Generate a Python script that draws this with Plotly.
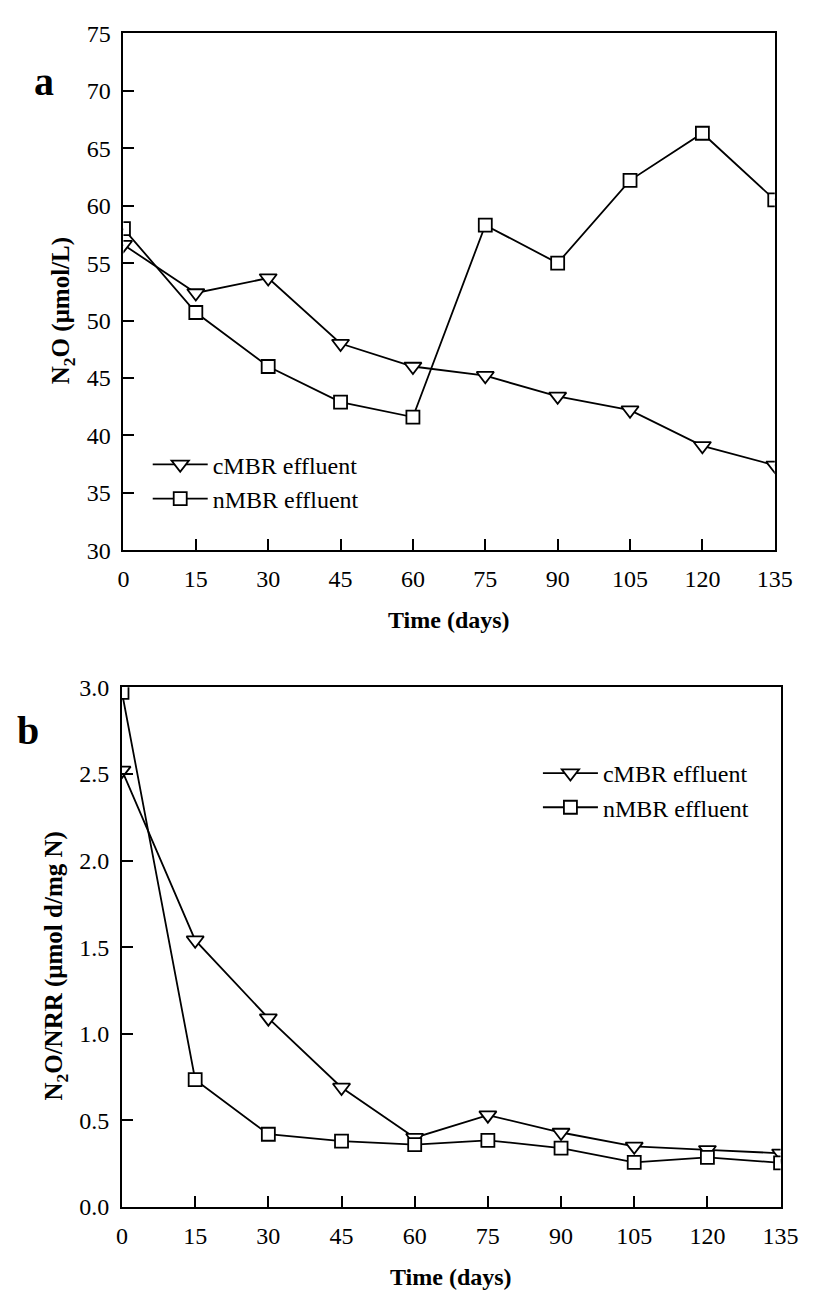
import plotly.graph_objects as go

days = [0, 15, 30, 45, 60, 75, 90, 105, 120, 135]
x_ticks = [0, 15, 30, 45, 60, 75, 90, 105, 120, 135]

# Panel a: N2O (umol/L)
a_cmbr = [56.6, 52.4, 53.7, 48.0, 46.0, 45.2, 43.4, 42.2, 39.1, 37.4]
a_nmbr = [58.0, 50.7, 46.0, 42.9, 41.6, 58.3, 55.0, 62.2, 66.3, 60.5]

# Panel b: N2O/NRR (umol d/mg N)
b_cmbr = [2.52, 1.54, 1.09, 0.69, 0.40, 0.53, 0.43, 0.35, 0.33, 0.31]
b_nmbr = [2.97, 0.735, 0.42, 0.38, 0.36, 0.385, 0.34, 0.258, 0.286, 0.255]

series_names = ["cMBR effluent", "nMBR effluent"]

W, H = 818, 1303
FONT = "Liberation Serif, Times New Roman, serif"
LW = 1.8

def px(v):
    return v / W

def py(v):
    return 1 - v / H

fig = go.Figure()

tri = dict(symbol="triangle-down", size=15, color="white", line=dict(color="black", width=LW))
sq = dict(symbol="square", size=13, color="white", line=dict(color="black", width=LW))

fig.add_trace(go.Scatter(x=days, y=a_cmbr, mode="lines+markers", name=series_names[0],
                         line=dict(color="black", width=LW), marker=tri,
                         xaxis="x", yaxis="y", legend="legend"))
fig.add_trace(go.Scatter(x=days, y=a_nmbr, mode="lines+markers", name=series_names[1],
                         line=dict(color="black", width=LW), marker=sq,
                         xaxis="x", yaxis="y", legend="legend"))
fig.add_trace(go.Scatter(x=days, y=b_cmbr, mode="lines+markers", name=series_names[0],
                         line=dict(color="black", width=LW), marker=tri,
                         xaxis="x2", yaxis="y2", legend="legend2"))
fig.add_trace(go.Scatter(x=days, y=b_nmbr, mode="lines+markers", name=series_names[1],
                         line=dict(color="black", width=LW), marker=sq,
                         xaxis="x2", yaxis="y2", legend="legend2"))

axis_common = dict(showline=True, linecolor="black", linewidth=LW, mirror=True,
                   ticks="inside", ticklen=11, tickwidth=LW, tickcolor="black",
                   showgrid=False, zeroline=False,
                   tickfont=dict(family=FONT, size=24, color="black"),
                   ticklabelstandoff=6)

fig.update_layout(
    width=W, height=H,
    margin=dict(l=0, r=0, t=0, b=0),
    paper_bgcolor="white", plot_bgcolor="white",
    font=dict(family=FONT, color="black"),
    xaxis=dict(domain=[px(121), px(792)], anchor="y", range=[0, 135],
               tickvals=x_ticks, **axis_common),
    yaxis=dict(domain=[py(548.3), py(20.7)], anchor="x", range=[30, 75],
               dtick=5, tick0=30, **axis_common),
    xaxis2=dict(domain=[px(119.5), px(798)], anchor="y2", range=[0, 135],
                tickvals=x_ticks, **axis_common),
    yaxis2=dict(domain=[py(1218.3), py(688)], anchor="x2", range=[0, 3],
                dtick=0.5, tick0=0, tickformat=".1f", **axis_common),
    legend=dict(x=px(146), y=py(438), xanchor="left", yanchor="top",
                bgcolor="rgba(0,0,0,0)", itemwidth=55,
                font=dict(family=FONT, size=24, color="black")),
    legend2=dict(x=px(548), y=py(753), xanchor="left", yanchor="top",
                 bgcolor="rgba(0,0,0,0)", itemwidth=55,
                 font=dict(family=FONT, size=24, color="black")),
)

ann = []
# panel letters
ann.append(dict(text="<b>a</b>", x=px(39), y=py(70), xref="paper", yref="paper",
                showarrow=False, xanchor="center", yanchor="middle",
                font=dict(family=FONT, size=40, color="black")))
ann.append(dict(text="<b>b</b>", x=px(23), y=py(732), xref="paper", yref="paper",
                showarrow=False, xanchor="center", yanchor="middle",
                font=dict(family=FONT, size=40, color="black")))
# axis titles
ann.append(dict(text="<b>Time (days)</b>", x=px(456.5), y=py(619), xref="paper", yref="paper",
                showarrow=False, xanchor="center", yanchor="middle",
                font=dict(family=FONT, size=24, color="black")))
ann.append(dict(text="<b>Time (days)</b>", x=px(458.5), y=py(1290), xref="paper", yref="paper",
                showarrow=False, xanchor="center", yanchor="middle",
                font=dict(family=FONT, size=24, color="black")))
ann.append(dict(text="<b>N<sub>2</sub>O (μmol/L)</b>", x=px(59), y=py(304), xref="paper", yref="paper",
                showarrow=False, xanchor="center", yanchor="middle", textangle=-90,
                font=dict(family=FONT, size=25, color="black")))
ann.append(dict(text="<b>N<sub>2</sub>O/NRR (μmol d/mg N)</b>", x=px(51), y=py(972.5), xref="paper", yref="paper",
                showarrow=False, xanchor="center", yanchor="middle", textangle=-90,
                font=dict(family=FONT, size=25, color="black")))
fig.update_layout(annotations=ann)

fig.write_html("out.html",
               config={"displayModeBar": False},
               post_script="document.body.style.margin='0';document.body.style.padding='0';"
                           "document.documentElement.style.overflow='hidden';")
